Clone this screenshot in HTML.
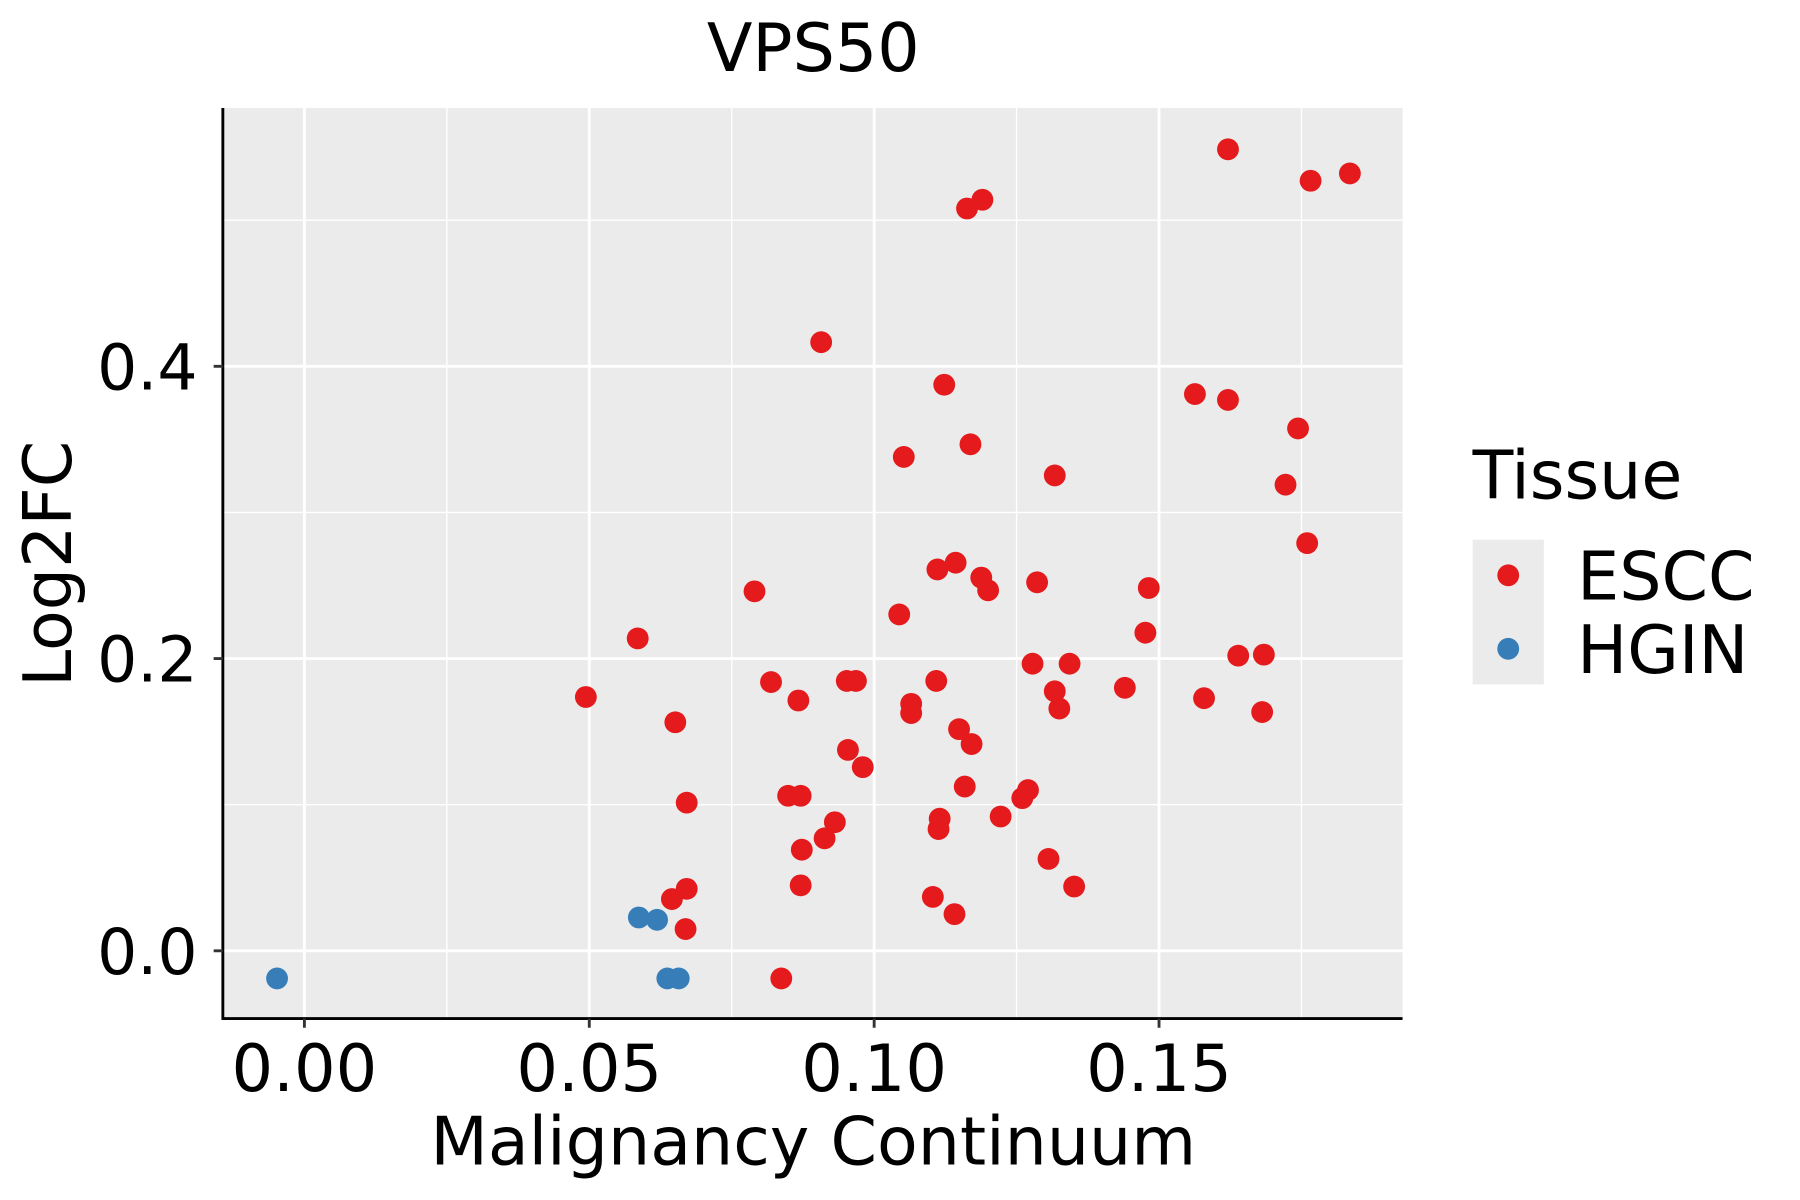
<!DOCTYPE html>
<html><head><meta charset="utf-8"><style>
html,body{margin:0;padding:0;background:#fff;}
svg{display:block;font-family:"DejaVu Sans","Liberation Sans",sans-serif;}
</style></head><body>
<svg id="chart" width="1800" height="1200" viewBox="0 0 1567 1045" preserveAspectRatio="none" xmlns="http://www.w3.org/2000/svg">
<rect width="1567" height="1045" fill="#fff"/>
<rect x="194" y="94" width="1027" height="793" fill="#ebebeb"/>
<g id="grid"></g>
<g id="points"></g>
<line x1="194" y1="94" x2="194" y2="888" stroke="#000" stroke-width="2.5"/>
<line x1="193" y1="887" x2="1221" y2="887" stroke="#000" stroke-width="2.5"/>
<g id="ticks"></g>
<text x="708" y="62" font-size="58" text-anchor="middle">VPS50</text>
<text x="708" y="1014" font-size="58" text-anchor="middle">Malignancy Continuum</text>
<text transform="translate(62,491) rotate(-90)" font-size="58" text-anchor="middle">Log2FC</text>
<g>
<text x="1282" y="434" font-size="58">Tissue</text>
<rect x="1282" y="470" width="62" height="126" fill="#ebebeb"/>
<circle cx="1313" cy="501" r="9.5" fill="#e41a1c"/>
<circle cx="1313" cy="565" r="9.5" fill="#377eb8"/>
<text x="1373" y="522" font-size="58">ESCC</text>
<text x="1373" y="586" font-size="58">HGIN</text>
</g>
</svg>
<script>
const xTicks=[0,0.05,0.10,0.15];
const xTickLabels=["0.00","0.05","0.10","0.15"];
const yTicks=[0,0.2,0.4];
const yTickLabels=["0.0","0.2","0.4"];
const xMinor=[0.025,0.075,0.125,0.175];
const yMinor=[0.1,0.3,0.5];
const esccX=[0.1621,0.1766,0.1835,0.1163,0.1190,0.0907,0.1123,0.1563,0.1621,0.1744,0.1169,0.1052,0.1317,0.1722,0.1760,0.0790,0.1111,0.1143,0.1188,0.1200,0.1286,0.1482,0.1044,0.0585,0.1476,0.0494,0.0819,0.0867,0.0952,0.0968,0.1109,0.1278,0.1343,0.1440,0.1639,0.1684,0.0651,0.1065,0.1065,0.1317,0.1325,0.1579,0.1681,0.1149,0.1171,0.0954,0.0980,0.0671,0.0849,0.0871,0.1159,0.1260,0.1270,0.0931,0.0913,0.1222,0.1115,0.1113,0.0873,0.1306,0.0871,0.0671,0.0645,0.1351,0.1103,0.1141,0.0669,0.0837];
const esccY=[0.5485,0.527,0.532,0.508,0.514,0.4165,0.3874,0.381,0.377,0.3575,0.3466,0.338,0.3253,0.319,0.279,0.246,0.261,0.2656,0.2554,0.2467,0.2522,0.2483,0.2302,0.2138,0.2177,0.1737,0.1839,0.1713,0.1847,0.1847,0.1847,0.1965,0.1965,0.18,0.202,0.2027,0.1564,0.169,0.1627,0.1776,0.1658,0.1729,0.1634,0.1517,0.1415,0.1375,0.1257,0.1014,0.1061,0.1061,0.1124,0.1045,0.110,0.088,0.077,0.0919,0.0904,0.0833,0.0692,0.0629,0.0448,0.0424,0.0354,0.044,0.0369,0.0251,0.0149,-0.0189];
const hginX=[-0.0048,0.0587,0.0619,0.0637,0.0657];
const hginY=[-0.0189,0.0228,0.0212,-0.0189,-0.0189];
const NS="http://www.w3.org/2000/svg";
function sx(v){return 265+(v/0.05)*248;}
function sy(v){return 828-(v/0.2)*254.5;}
function mk(tag,attrs,parent){const e=document.createElementNS(NS,tag);for(const k in attrs)e.setAttribute(k,attrs[k]);parent.appendChild(e);return e;}
const grid=document.getElementById('grid'),ticks=document.getElementById('ticks'),pts=document.getElementById('points');
xMinor.forEach(v=>{const l=mk('line',{x1:sx(v),x2:sx(v),y1:94,y2:887,stroke:'#fff','stroke-width':1.2},grid);

});
yMinor.forEach(v=>{const l=mk('line',{x1:194,x2:1221,y1:sy(v),y2:sy(v),stroke:'#fff','stroke-width':1.2},grid);

});
xTicks.forEach((v,i)=>{const l=mk('line',{x1:sx(v),x2:sx(v),y1:94,y2:887,stroke:'#fff','stroke-width':2.5},grid);


const t=mk('line',{x1:sx(v),x2:sx(v),y1:887,y2:895,stroke:'#333','stroke-width':2.5},ticks);


const tx=mk('text',{x:sx(v),y:950,'font-size':57,'text-anchor':'middle',fill:'#000'},ticks);tx.textContent=xTickLabels[i];

});
yTicks.forEach((v,i)=>{const l=mk('line',{x1:194,x2:1221,y1:sy(v),y2:sy(v),stroke:'#fff','stroke-width':2.5},grid);


const t=mk('line',{x1:186,x2:194,y1:sy(v),y2:sy(v),stroke:'#333','stroke-width':2.5},ticks);


const tx=mk('text',{x:172,y:sy(v)+20,'font-size':55,'text-anchor':'end',fill:'#000'},ticks);tx.textContent=yTickLabels[i];

});
esccX.forEach((v,i)=>{const c=mk('circle',{cx:sx(v),cy:sy(esccY[i]),r:9.5,fill:'#e41a1c'},pts);

});
hginX.forEach((v,i)=>{const c=mk('circle',{cx:sx(v),cy:sy(hginY[i]),r:9.5,fill:'#377eb8'},pts);

});
</script>
</body></html>
